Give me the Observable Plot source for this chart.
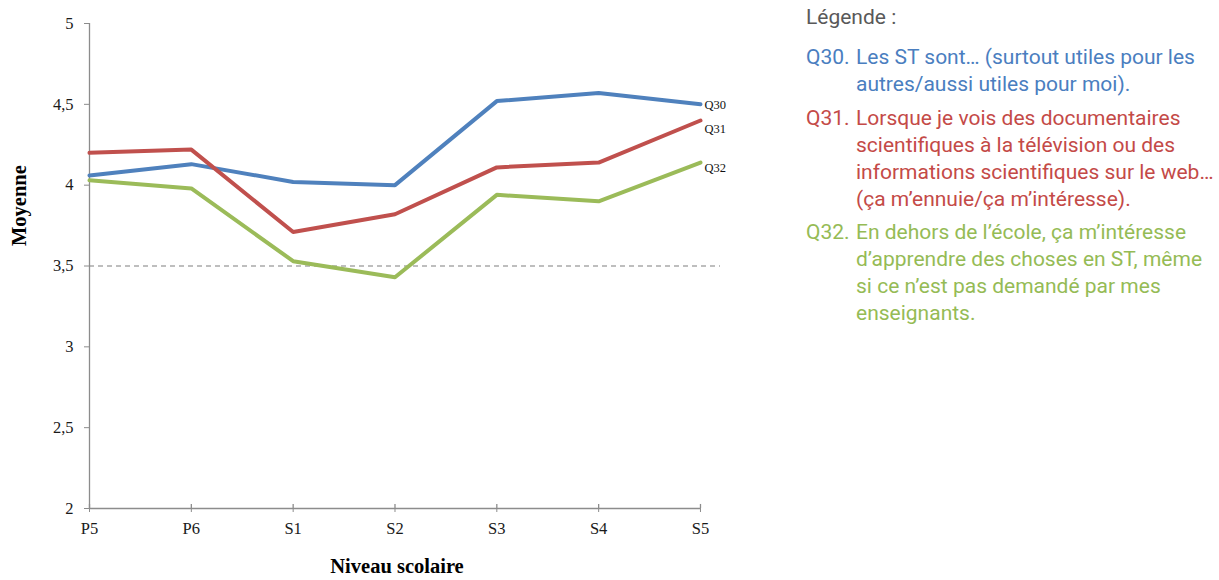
<!DOCTYPE html>
<html>
<head>
<meta charset="utf-8">
<script src="https://cdn.jsdelivr.net/npm/d3@7"></script>
<script src="https://cdn.jsdelivr.net/npm/@observablehq/plot@0.6"></script>
<style>
  html, body { margin: 0; padding: 0; background: #fff; }
  #wrap { position: relative; width: 1219px; height: 580px; overflow: hidden; }
  #chart { position: absolute; left: 0; top: 0; }
  #legend { position: absolute; left: 806px; top: 4px; width: 413px; font-family: Roboto, "Noto Sans", sans-serif; font-size: 21px; line-height: 27px; }
  #legend .title { color: #595959; margin-bottom: 13px; }
  #legend .item { display: flex; margin-bottom: 6.5px; }
  #legend .item .k { flex: 0 0 50px; }
  #legend .item .t { flex: 1 1 auto; white-space: nowrap; }
</style>
</head>
<body>
<div id="wrap">
  <div id="chart"></div>
  <div id="legend"></div>
</div>
<script>
const levels = ["P5", "P6", "S1", "S2", "S3", "S4", "S5"];
const seriesNames = ["Q30", "Q31", "Q32"];
const q30 = [4.06, 4.13, 4.02, 4.00, 4.52, 4.57, 4.50];
const q31 = [4.20, 4.22, 3.71, 3.82, 4.11, 4.14, 4.40];
const q32 = [4.03, 3.98, 3.53, 3.43, 3.94, 3.90, 4.14];
const yTicks = [2, 2.5, 3, 3.5, 4, 4.5, 5];
const threshold = 3.5;
const lineColors = ["#4f81bd", "#c0504d", "#9bbb59"];
const legendColors = ["#4a7ebf", "#c44a47", "#95bb55"];
const legendTitle = "Légende :";
const legendTexts = [
  ["Les ST sont… (surtout utiles pour les", "autres/aussi utiles pour moi)."],
  ["Lorsque je vois des documentaires", "scientifiques à la télévision ou des", "informations scientifiques sur le web…", "(ça m’ennuie/ça m’intéresse)."],
  ["En dehors de l’école, ça m’intéresse", "d’apprendre des choses en ST, même", "si ce n’est pas demandé par mes", "enseignants."]
];
const xTitle = "Niveau scolaire";
const yTitle = "Moyenne";

const allSeries = [q30, q31, q32];
const data = [];
seriesNames.forEach((s, i) => levels.forEach((l, j) => data.push({series: s, level: l, value: allSeries[i][j]})));
const lastPoints = data.filter(d => d.level === levels[levels.length - 1]);

const serif = "'Liberation Serif', 'Times New Roman', serif";
const fmt = d => String(d).replace(".", ",");

const plot = Plot.plot({
  width: 760,
  height: 580,
  marginLeft: 89,
  marginRight: 40,
  marginTop: 23,
  marginBottom: 72,
  style: {fontFamily: serif, background: "transparent", overflow: "visible"},
  x: {type: "point", domain: levels, padding: 0.0983, align: 0, round: false, label: null},
  y: {domain: [2, 5], label: null},
  color: {domain: seriesNames, range: lineColors},
  marks: [
    Plot.ruleY([threshold], {stroke: "#7f7f7f", strokeWidth: 1.2, strokeDasharray: "5,4"}),
    Plot.ruleY([2], {x1: () => levels[0], x2: () => levels[levels.length - 1], stroke: "#8c8c8c", strokeWidth: 1.3}),
    Plot.ruleX([levels[0]], {x: d => d, y1: 2, y2: 5, stroke: "#8c8c8c", strokeWidth: 1.3}),
    Plot.ruleX(levels, {x: d => d, y1: 2, y2: 2.025, stroke: "#8c8c8c", strokeWidth: 1.3}),
    Plot.axisY({ticks: yTicks, tickFormat: fmt, tickSize: 5, tickPadding: 11, stroke: "#8c8c8c", fontSize: 16.5, fill: "#1a1a1a", label: null}),
    Plot.axisX({tickSize: 4, tickPadding: 10, stroke: "#8c8c8c", fontSize: 16.5, fill: "#1a1a1a", label: null}),
    Plot.line(data, {x: "level", y: "value", z: "series", stroke: "series", strokeWidth: 4, strokeLinejoin: "round", strokeLinecap: "round"}),
    Plot.text(lastPoints.filter(d => d.series === "Q30"), {x: "level", y: "value", text: "series", textAnchor: "start", dx: 4, dy: 1, fontSize: 12.5, fill: "#111"}),
    Plot.text(lastPoints.filter(d => d.series === "Q31"), {x: "level", y: "value", text: "series", textAnchor: "start", dx: 4, dy: 8, fontSize: 12.5, fill: "#111"}),
    Plot.text(lastPoints.filter(d => d.series === "Q32"), {x: "level", y: "value", text: "series", textAnchor: "start", dx: 4, dy: 5, fontSize: 12.5, fill: "#111"}),
    Plot.text([yTitle], {frameAnchor: "left", text: d => d, rotate: -90, dx: -70, dy: -20, fontSize: 20.5, fontWeight: "bold", fill: "#000"}),
    Plot.text([xTitle], {frameAnchor: "bottom", text: d => d, dx: -8, dy: 64, fontSize: 20.5, fontWeight: "bold", fill: "#000"})
  ]
});
document.getElementById("chart").appendChild(plot);

const legend = document.getElementById("legend");
const title = document.createElement("div");
title.className = "title";
title.textContent = legendTitle;
legend.appendChild(title);
seriesNames.forEach((s, i) => {
  const item = document.createElement("div");
  item.className = "item";
  item.style.color = legendColors[i];
  const k = document.createElement("span");
  k.className = "k";
  k.textContent = s + ".";
  const t = document.createElement("span");
  t.className = "t";
  legendTexts[i].forEach((line, j) => {
    if (j > 0) t.appendChild(document.createElement("br"));
    t.appendChild(document.createTextNode(line));
  });
  item.appendChild(k);
  item.appendChild(t);
  legend.appendChild(item);
});
</script>
</body>
</html>
